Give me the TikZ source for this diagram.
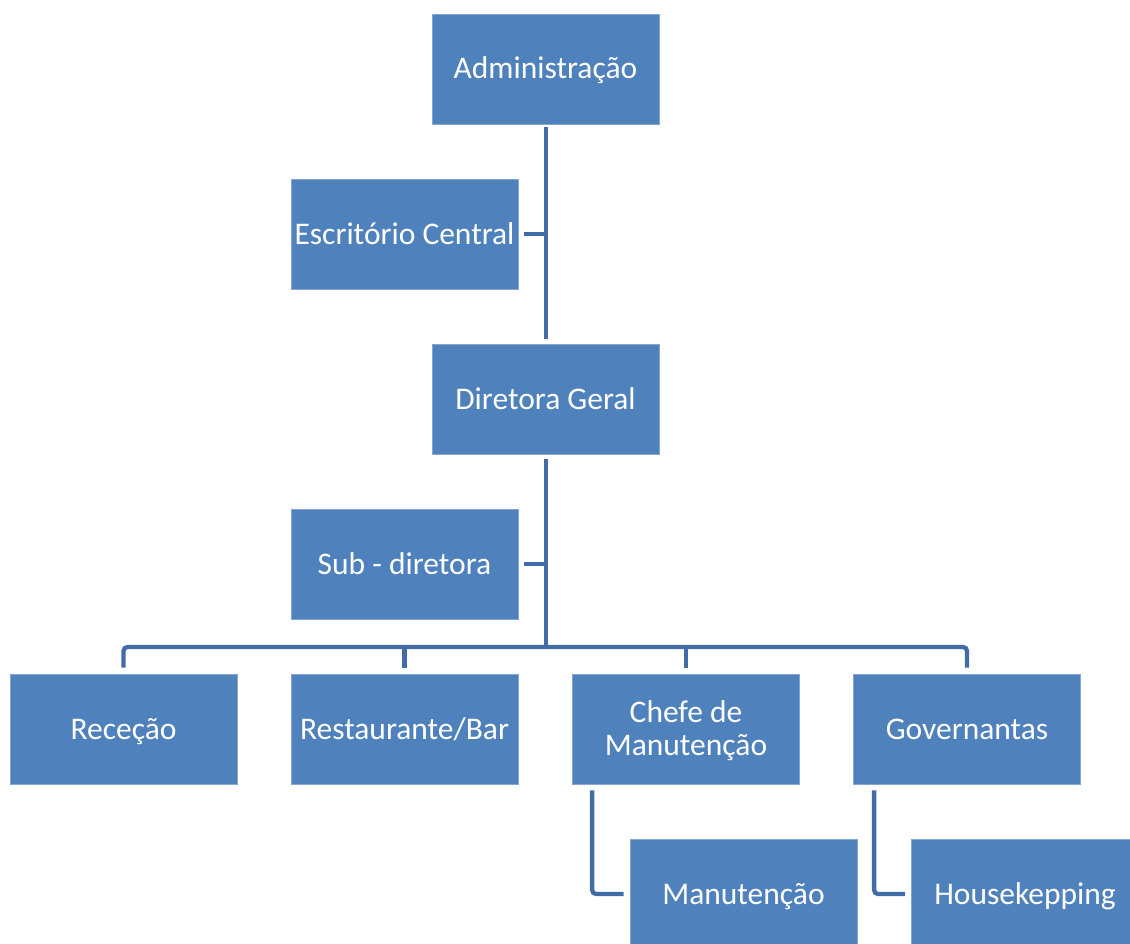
\documentclass[tikz,border=0pt]{standalone}
\usepackage{fontspec}
\setmainfont{Carlito}
\definecolor{boxblue}{RGB}{79,129,189}
\definecolor{linkblue}{RGB}{66,108,165}
\begin{document}
\begin{tikzpicture}[x=1pt,y=-1pt,
  unit/.style={rectangle, fill=boxblue, draw=boxblue!70!white, line width=0.8pt,
    minimum width=227pt, minimum height=110pt, inner sep=0pt,
    text=white, align=center, text height=28pt, text depth=8pt,
    font=\fontsize{31.5pt}{33pt}\selectfont},
  twoline/.style={text height=56pt, text depth=4pt},
  conn/.style={draw=linkblue, line width=4.3pt}]
\useasboundingbox (0,0) rectangle (1130,944);
\clip (0,0) rectangle (1130,944);

% boxes, laid out on a 281 x 165 grid
\node[unit] (adm)  at (545.5, 69) {Administração};
\node[unit] (esc)  at (404.5,234) {Escritório Central};
\node[unit] (dir)  at (545.5,399) {Diretora Geral};
\node[unit] (sub)  at (404.5,564) {Sub - diretora};
\node[unit] (rec)  at (123.5,729) {Receção};
\node[unit] (rest) at (404.5,729) {Restaurante/Bar};
\node[unit, twoline] (chf) at (686.0,729) {Chefe de\\Manutenção};
\node[unit] (gov)  at (967.0,729) {Governantas};
\node[unit] (man)  at (743.5,894) {Manutenção};
\node[unit] (hk)   at (1025.0,894) {Housekepping};

\coordinate (bus) at (546,647);

% main trunk
\draw[conn, shorten <=3pt, shorten >=5pt] ([xshift=0.5pt]adm.south) -- ([xshift=0.5pt]dir.north);
\draw[conn, shorten <=6pt] (esc.east) -- (esc.east -| bus);
\draw[conn, shorten <=5pt] (dir.south -| bus) -- (bus);
\draw[conn, shorten <=6pt] (sub.east) -- (sub.east -| bus);

% department bus
\draw[conn, rounded corners=4pt] ([yshift=6pt]rec.north) |- (gov.north |- bus) -- ([yshift=6pt]gov.north);
\draw[conn] ([yshift=6pt]rest.north) -- (rest.north |- bus);
\draw[conn] ([yshift=6pt]chf.north) -- (chf.north |- bus);

% sub-units
\draw[conn, rounded corners=4pt] ([xshift=20pt,yshift=-6pt]chf.south west) |- ([xshift=-6pt]man.west);
\draw[conn, rounded corners=4pt] ([xshift=21pt,yshift=-6pt]gov.south west) |- ([xshift=-6pt]hk.west);
\end{tikzpicture}
\end{document}
